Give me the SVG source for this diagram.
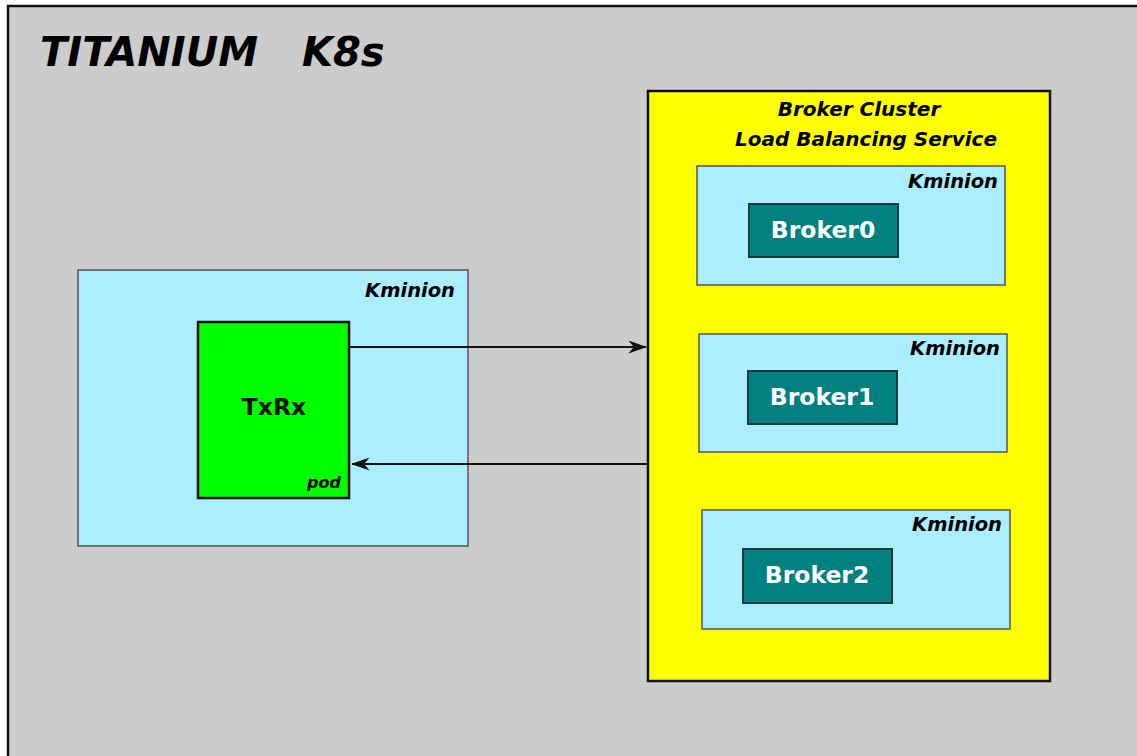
<svg xmlns="http://www.w3.org/2000/svg" width="1137" height="756" viewBox="0 0 1137 756">
<style>
.it{font-family:"DejaVu Sans",sans-serif;font-weight:bold;font-style:italic;fill:#000}
.bd{font-family:"DejaVu Sans",sans-serif;font-weight:bold}
.km{fill:#aaeeff;stroke:#555555;stroke-width:1.5}
.br{fill:#008080;stroke:#1a3a3a;stroke-width:2}
.brt{font-family:"DejaVu Sans",sans-serif;font-weight:bold;font-size:23.5px;fill:#ffffff;text-anchor:middle}
.kt{font-family:"DejaVu Sans",sans-serif;font-weight:bold;font-style:italic;font-size:19.5px;text-anchor:end}
.cn{stroke:#111;stroke-width:2.2;fill:none}
</style>
<defs>
<marker id="ah" viewBox="0 0 20 14" refX="19" refY="7" markerWidth="20" markerHeight="13" markerUnits="userSpaceOnUse" orient="auto">
<path d="M0,0 L20,7 L0,14 L6,7 Z" fill="#111"/>
</marker>
</defs>
<rect x="0" y="0" width="1137" height="756" fill="#ffffff"/>
<rect id="frame" x="8" y="6" width="1140" height="760" fill="#cccccc" stroke="#111" stroke-width="2.5"/>
<text class="it" x="40" y="66" font-size="40">TITANIUM</text>
<text class="it" x="302" y="66" font-size="40">K8s</text>

<g id="kminion-left">
<rect class="km" x="78" y="270" width="390" height="276"/>
<text class="kt" x="455" y="297">Kminion</text>
</g>
<g id="txrx">
<rect x="198" y="322" width="151" height="176" fill="#00ff00" stroke="#111" stroke-width="2.5"/>
<text class="bd" x="274" y="415" font-size="23.5" text-anchor="middle" fill="#111">TxRx</text>
<text class="it" x="341" y="488" font-size="16" text-anchor="end">pod</text>
</g>

<g id="broker-cluster">
<rect x="648" y="91" width="402" height="590" fill="#ffff00" stroke="#111" stroke-width="2.5"/>
<text class="it" x="859" y="116" font-size="20" text-anchor="middle">Broker Cluster</text>
<text class="it" x="866" y="146" font-size="20" text-anchor="middle">Load Balancing Service</text>
</g>

<g id="kminion0">
<rect class="km" x="697" y="166" width="308" height="119"/>
<text class="kt" x="998" y="188">Kminion</text>
</g>
<g id="broker0">
<rect class="br" x="749" y="204" width="149" height="53"/>
<text class="brt" x="823" y="238">Broker0</text>
</g>

<g id="kminion1">
<rect class="km" x="699" y="334" width="308" height="118"/>
<text class="kt" x="1000" y="355">Kminion</text>
</g>
<g id="broker1">
<rect class="br" x="748" y="371" width="149" height="53"/>
<text class="brt" x="822" y="405">Broker1</text>
</g>

<g id="kminion2">
<rect class="km" x="702" y="510" width="308" height="119"/>
<text class="kt" x="1002" y="531">Kminion</text>
</g>
<g id="broker2">
<rect class="br" x="743" y="549" width="149" height="54"/>
<text class="brt" x="817" y="583">Broker2</text>
</g>

<g id="connectors">
<line class="cn" x1="350" y1="347" x2="646" y2="347" marker-end="url(#ah)"/>
<line class="cn" x1="648" y1="464" x2="352" y2="464" marker-end="url(#ah)"/>
</g>
</svg>
